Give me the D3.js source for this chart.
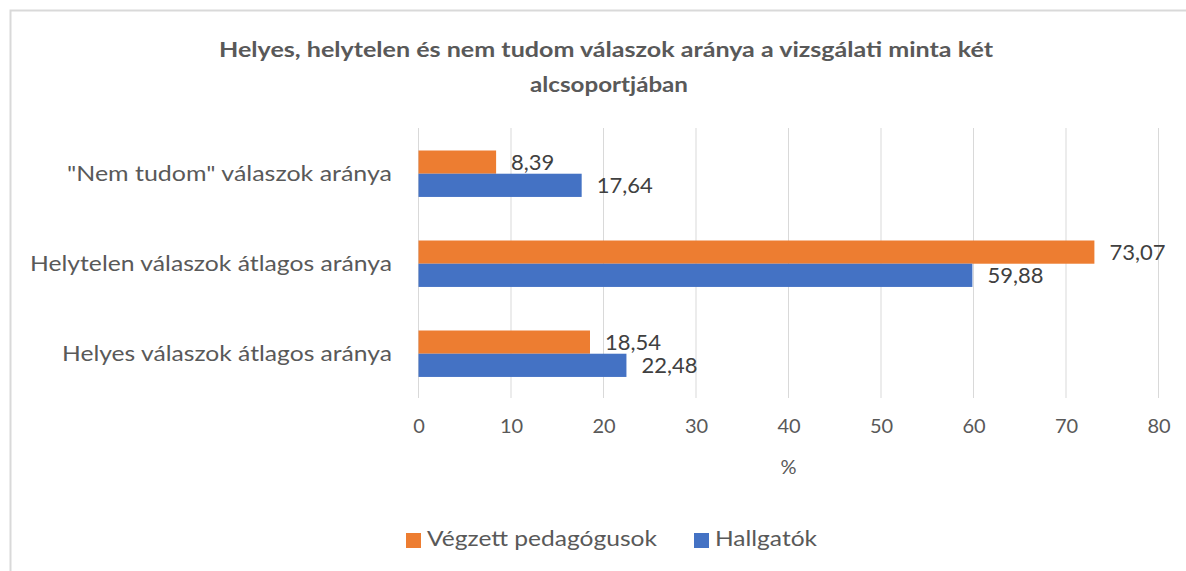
<!DOCTYPE html>
<html>
<head>
<meta charset="utf-8">
<script src="https://cdn.jsdelivr.net/npm/d3@7"></script>
<style>
  html, body { margin: 0; padding: 0; background: #fff; }
  svg { display: block; font-family: Lato, "Open Sans", sans-serif; }
</style>
</head>
<body>
<svg id="chart" width="1186" height="571"></svg>
<script>
var categories = ['Helyes válaszok átlagos aránya', 'Helytelen válaszok átlagos aránya', '"Nem tudom" válaszok aránya'];
var seriesNames = ['Végzett pedagógusok', 'Hallgatók'];
var vegzett = [18.54, 73.07, 8.39];
var hallgatok = [22.48, 59.88, 17.64];
var xTicks = [0, 10, 20, 30, 40, 50, 60, 70, 80];
var colors = ['#ED7D31', '#4472C4'];

// widths, used to stretch the text like the original font
var catWidths = [330, 362, 325];
var legendWidths = [230, 102];

var svg = d3.select('#chart');

// outer frame
svg.append('rect')
  .attr('x', 10.5).attr('y', 10.5)
  .attr('width', 1200).attr('height', 600)
  .attr('fill', 'none').attr('stroke', '#d9d9d9').attr('stroke-width', 2);

// title
svg.append('text')
  .attr('x', 606).attr('y', 57)
  .attr('text-anchor', 'middle')
  .attr('fill', '#595959')
  .attr('textLength', 774).attr('lengthAdjust', 'spacingAndGlyphs')
  .style('font-size', '21px').style('font-weight', 'bold')
  .text('Helyes, helytelen és nem tudom válaszok aránya a vizsgálati minta két');
svg.append('text')
  .attr('x', 609).attr('y', 92)
  .attr('text-anchor', 'middle')
  .attr('fill', '#595959')
  .attr('textLength', 158).attr('lengthAdjust', 'spacingAndGlyphs')
  .style('font-size', '21px').style('font-weight', 'bold')
  .text('alcsoportjában');

var x = d3.scaleLinear().domain([0, 80]).range([418.5, 1158.5]);
var y = d3.scaleBand().domain(categories.slice().reverse()).range([128, 398]);
var inner = d3.scaleBand().domain(seriesNames).range([y.bandwidth() * 0.25, y.bandwidth() * 0.766]);

// grid
svg.append('g').selectAll('line')
  .data(xTicks)
  .join('line')
  .attr('x1', function(d) { return x(d); })
  .attr('x2', function(d) { return x(d); })
  .attr('y1', 128).attr('y2', 398)
  .attr('stroke', '#d9d9d9').attr('stroke-width', 1);

// x axis labels
var xAxis = svg.append('g').attr('transform', 'translate(0,398)')
  .call(d3.axisBottom(x).tickValues(xTicks).tickSize(0).tickPadding(21));
xAxis.select('.domain').remove();
xAxis.selectAll('text')
  .attr('fill', '#595959')
  .style('font-size', '20px')
  .style('font-family', 'Lato, sans-serif');

svg.append('text')
  .attr('x', x(40)).attr('y', 474)
  .attr('text-anchor', 'middle')
  .attr('fill', '#595959').style('font-size', '20px')
  .text('%');

// y axis labels
svg.append('g').selectAll('text')
  .data(categories)
  .join('text')
  .attr('x', 392)
  .attr('y', function(d) { return y(d) + y.bandwidth() / 2 + 3; })
  .attr('text-anchor', 'end')
  .attr('dominant-baseline', 'middle')
  .attr('fill', '#595959')
  .attr('textLength', function(d, i) { return catWidths[i]; })
  .attr('lengthAdjust', 'spacingAndGlyphs')
  .style('font-size', '21px')
  .text(function(d) { return d; });

// bars
var rows = categories.map(function(c, i) {
  return [
    { cat: c, s: seriesNames[0], v: vegzett[i], color: colors[0] },
    { cat: c, s: seriesNames[1], v: hallgatok[i], color: colors[1] }
  ];
});
var flat = d3.merge(rows);
var fmt = function(v) { return d3.format('.2f')(v).replace('.', ','); };

var bars = svg.append('g');
bars.selectAll('rect')
  .data(flat)
  .join('rect')
  .attr('x', x(0))
  .attr('y', function(d) { return y(d.cat) + inner(d.s); })
  .attr('width', function(d) { return x(d.v) - x(0); })
  .attr('height', inner.bandwidth())
  .attr('fill', function(d) { return d.color; });

bars.selectAll('text')
  .data(flat)
  .join('text')
  .attr('x', function(d) { return x(d.v) + 15; })
  .attr('y', function(d) { return y(d.cat) + inner(d.s) + inner.bandwidth() / 2 + 2; })
  .attr('dominant-baseline', 'middle')
  .attr('fill', '#404040')
  .style('font-size', '22px')
  .text(function(d) { return fmt(d.v); });

// legend
var legend = svg.append('g').attr('transform', 'translate(406,533)');
var lx = [0, 288];
seriesNames.forEach(function(name, i) {
  var g = legend.append('g').attr('transform', 'translate(' + lx[i] + ',0)');
  g.append('rect').attr('width', 15).attr('height', 15).attr('fill', colors[i]);
  g.append('text').attr('x', 21).attr('y', 8)
    .attr('dominant-baseline', 'middle')
    .attr('fill', '#595959').style('font-size', '21px')
    .attr('textLength', legendWidths[i]).attr('lengthAdjust', 'spacingAndGlyphs')
    .text(name);
});
</script>
</body>
</html>
